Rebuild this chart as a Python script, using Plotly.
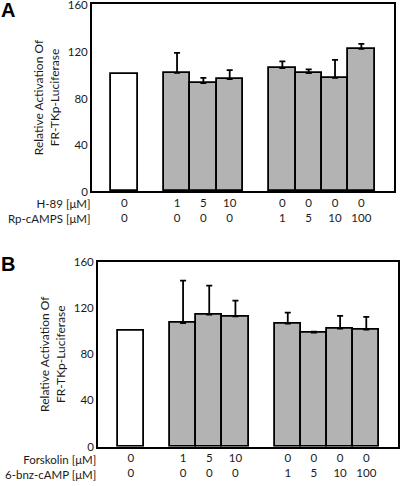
import plotly.graph_objects as go

# Slot positions (gaps between groups)
positions = [0, 2, 3, 4, 6, 7, 8, 9]

# Panel A
a_values = [100, 101.1, 92.3, 95.7, 105.1, 100.9, 96.8, 121.6]
a_errors = [0, 17.1, 4.5, 7.7, 5.8, 3.1, 15.4, 4.3]
a_row1_label = "H-89 [μM]"
a_row2_label = "Rp-cAMPS [μM]"
a_row1 = ["0", "1", "5", "10", "0", "0", "0", "0"]
a_row2 = ["0", "0", "0", "0", "1", "5", "10", "100"]

# Panel B
b_values = [100, 107.0, 114.2, 112.8, 106.4, 98.6, 102.1, 101.2]
b_errors = [0, 36.6, 25.1, 13.5, 9.5, 0.9, 11.0, 11.0]
b_row1_label = "Forskolin [μM]"
b_row2_label = "6-bnz-cAMP [μM]"
b_row1 = ["0", "1", "5", "10", "0", "0", "0", "0"]
b_row2 = ["0", "0", "0", "0", "1", "5", "10", "100"]

y_ticks = [0, 40, 80, 120, 160]
y_title = "Relative Activation Of<br>FR-TKp-Luciferase"

W, H = 400, 486
FONT = "Lato"
TXT = "#1a1a1a"
GRAY = "#b3b3b3"
FS = 11.5
FS_TITLE = 12

fig = go.Figure()

def add_panel(vals, errs, xa, ya):
    # control bar (white, no error bar)
    fig.add_trace(go.Bar(
        x=positions[:1], y=vals[:1], width=1.0,
        marker=dict(color="white", line=dict(color="black", width=1.8)),
        xaxis=xa, yaxis=ya, showlegend=False, hoverinfo="skip",
    ))
    # treated bars (gray, upward error bars)
    fig.add_trace(go.Bar(
        x=positions[1:], y=vals[1:], width=1.0,
        marker=dict(color=GRAY, line=dict(color="black", width=1.8)),
        error_y=dict(type="data", array=errs[1:], arrayminus=[0] * len(errs[1:]),
                     symmetric=False, color="black", thickness=1.8, width=3),
        xaxis=xa, yaxis=ya, showlegend=False, hoverinfo="skip",
    ))

add_panel(a_values, a_errors, "x", "y")
add_panel(b_values, b_errors, "x2", "y2")

def px_x(p):
    return p / W

def px_y(p):
    return 1 - p / H

axis_common = dict(showline=True, mirror=True, linecolor="black", linewidth=1.8,
                   showgrid=False, zeroline=False, ticks="", automargin=False,
                   ticklabeloverflow="allow",
                   tickfont=dict(family=FONT, size=FS, color=TXT))

fig.update_layout(
    width=W, height=H, margin=dict(l=0, r=0, t=0, b=0),
    paper_bgcolor="white", plot_bgcolor="white", bargap=0, barmode="overlay",
    font=dict(family=FONT, color=TXT),
    xaxis=dict(domain=[px_x(92), px_x(394)], range=[-1.23, 10.24],
               tickvals=positions,
               ticktext=[f"{r1}<br>{r2}" for r1, r2 in zip(a_row1, a_row2)],
               anchor="y", **axis_common),
    yaxis=dict(domain=[px_y(191), px_y(4)], range=[0, 160], tickvals=y_ticks,
               anchor="x", ticklabelshift=1,
               title=dict(text=y_title, font=dict(family=FONT, size=FS_TITLE, color=TXT), standoff=6),
               **axis_common),
    xaxis2=dict(domain=[px_x(98), px_x(397.7)], range=[-1.25, 10.2],
                tickvals=positions,
                ticktext=[f"{r1}<br>{r2}" for r1, r2 in zip(b_row1, b_row2)],
                anchor="y2", **axis_common),
    yaxis2=dict(domain=[px_y(446.7), px_y(261.7)], range=[0, 160], tickvals=y_ticks,
                anchor="x2",
                title=dict(text=y_title, font=dict(family=FONT, size=FS_TITLE, color=TXT), standoff=6),
                **axis_common),
)

for xa, ya, lab1, lab2 in [("x", "y", a_row1_label, a_row2_label), ("x2", "y2", b_row1_label, b_row2_label)]:
    fig.add_annotation(text=f"{lab1}<br>{lab2}", xref=f"{xa} domain", yref=f"{ya} domain",
                       x=0, y=0, xanchor="right", yanchor="top", yshift=-4, align="right",
                       showarrow=False, font=dict(family=FONT, size=FS, color=TXT))

fig.add_annotation(text="<b>A</b>", xref="paper", yref="paper", x=px_x(7.5), y=px_y(10),
                   xanchor="center", yanchor="middle", showarrow=False,
                   font=dict(family="Liberation Sans", size=20, color="black"))
fig.add_annotation(text="<b>B</b>", xref="paper", yref="paper", x=px_x(7.5), y=px_y(264),
                   xanchor="center", yanchor="middle", showarrow=False,
                   font=dict(family="Liberation Sans", size=20, color="black"))

fig.write_html("out.html", config={"displayModeBar": False},
               post_script="document.body.style.margin='0';document.body.style.overflow='hidden';")
